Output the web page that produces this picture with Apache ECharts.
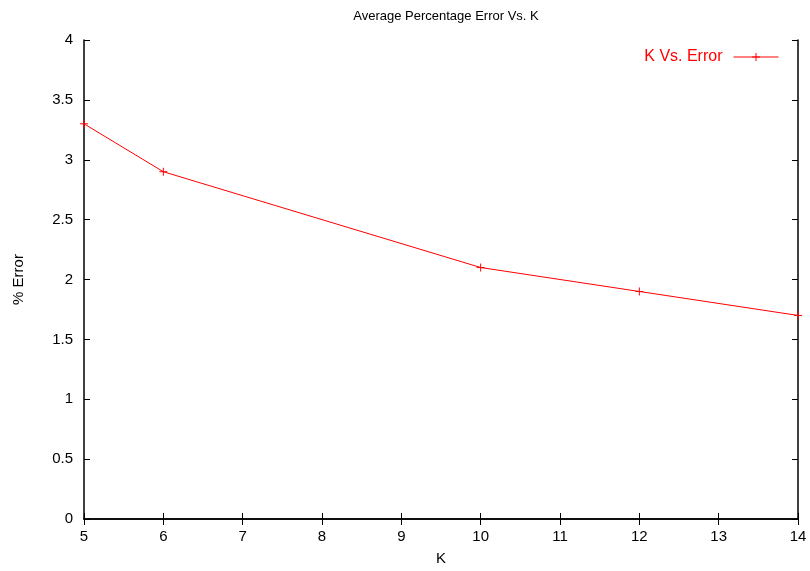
<!DOCTYPE html>
<html>
<head>
<meta charset="utf-8">
<script src="https://cdn.jsdelivr.net/npm/echarts@6/dist/echarts.min.js"></script>
<style>
  html, body { margin: 0; padding: 0; background: #fff; }
  #chart { width: 810px; height: 571px; }
</style>
</head>
<body>
<div id="chart"></div>
<script>
// K values and the matching average % error
const kValues = [5, 6, 10, 12, 14];
const errorValues = [3.3, 2.9, 2.1, 1.9, 1.7];

const seriesName = 'K Vs. Error';
const fontFamily = '"Liberation Sans", Arial, sans-serif';
const plusSymbol = 'path://M0,-10 L0,10 M-10,0 L10,0';

const chart = echarts.init(document.getElementById('chart'));

const tickStyle = { show: true, inside: true, length: 6, lineStyle: { color: '#000', width: 1 } };
const lineStyle = { color: '#000', width: 1.5 };

chart.setOption({
  animation: false,
  backgroundColor: '#fff',
  title: {
    text: 'Average Percentage Error Vs. K',
    left: 441,
    textAlign: 'center',
    top: 5,
    textStyle: { fontFamily: fontFamily, fontSize: 13, fontWeight: 'normal', color: '#000' }
  },
  legend: {
    right: 26,
    top: 44,
    align: 'right',
    itemWidth: 45,
    itemHeight: 10,
    itemGap: 6,
    lineStyle: { width: 1 },
    itemStyle: { borderWidth: 1 },
    textStyle: { fontFamily: fontFamily, fontSize: 16, color: '#ff0000', padding: [0, 6, 0, 0] },
    data: [seriesName]
  },
  grid: { left: 84, right: 12, top: 40, bottom: 51 },
  xAxis: [{
    type: 'value',
    min: 5,
    max: 14,
    interval: 1,
    name: 'K',
    nameLocation: 'middle',
    nameGap: 32,
    nameTextStyle: { fontFamily: fontFamily, fontSize: 15, color: '#000' },
    axisLine: { lineStyle: lineStyle },
    axisTick: tickStyle,
    axisLabel: { fontFamily: fontFamily, fontSize: 15, color: '#000', margin: 10 },
    splitLine: { show: false }
  }, {
    type: 'value',
    position: 'top',
    min: 5,
    max: 14,
    interval: 1,
    axisLine: { show: true, lineStyle: lineStyle },
    axisTick: tickStyle,
    axisLabel: { show: false },
    splitLine: { show: false }
  }],
  yAxis: [{
    type: 'value',
    min: 0,
    max: 4,
    interval: 0.5,
    name: '% Error',
    nameLocation: 'middle',
    nameGap: 58,
    nameTextStyle: { fontFamily: fontFamily, fontSize: 15, color: '#000' },
    axisLine: { show: true, lineStyle: lineStyle },
    axisTick: tickStyle,
    axisLabel: { fontFamily: fontFamily, fontSize: 15, color: '#000', margin: 11 },
    splitLine: { show: false }
  }, {
    type: 'value',
    position: 'right',
    min: 0,
    max: 4,
    interval: 0.5,
    axisLine: { show: true, lineStyle: lineStyle },
    axisTick: tickStyle,
    axisLabel: { show: false },
    splitLine: { show: false }
  }],
  series: [{
    name: seriesName,
    type: 'line',
    data: kValues.map((k, i) => [k, errorValues[i]]),
    symbol: plusSymbol,
    symbolSize: 8,
    showSymbol: true,
    clip: false,
    lineStyle: { color: '#ff0000', width: 1 },
    itemStyle: { color: '#ff0000', borderColor: '#ff0000', borderWidth: 1 }
  }]
});
</script>
</body>
</html>
